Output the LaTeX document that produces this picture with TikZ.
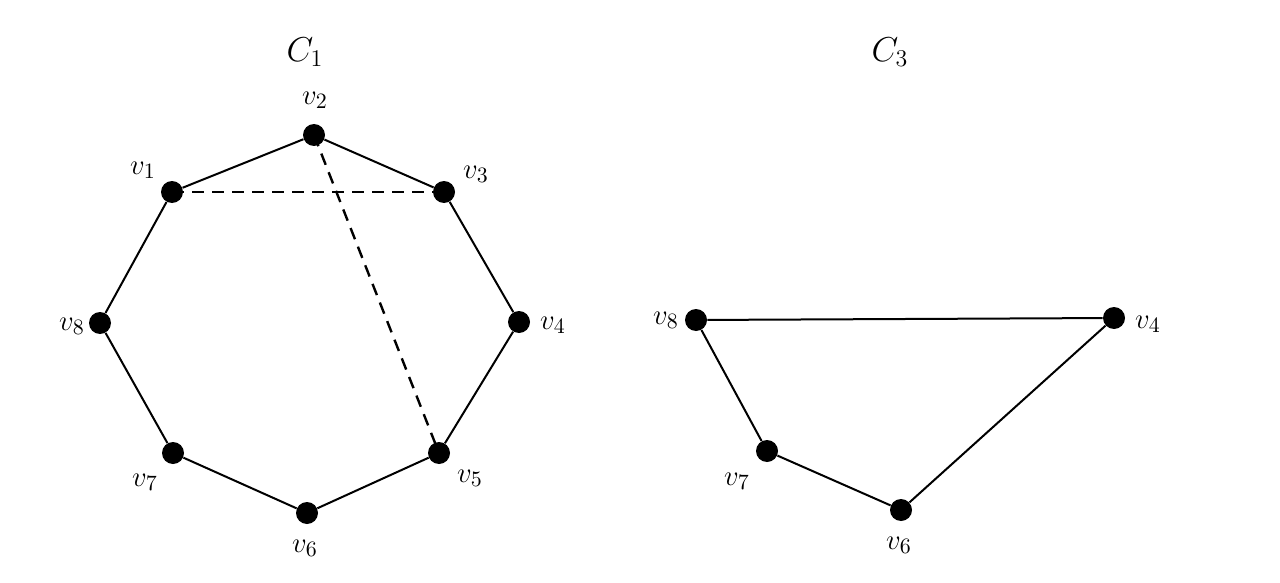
\documentclass[tikz,border=0pt]{standalone}
\begin{document}
\begin{tikzpicture}[x=0.5pt,y=-0.5pt,
  vtx/.style={circle,fill=black,inner sep=0pt,minimum size=11pt},
  lbl/.style={font=\fontsize{15}{18}\selectfont,inner sep=0pt},
  ttl/.style={font=\fontsize{17}{20}\selectfont,inner sep=0pt},
  edge/.style={line width=1pt},
  dedge/.style={line width=1.2pt,dash pattern=on 6pt off 4pt}]
\useasboundingbox (0,0) rectangle (1280,583);
% C1
\node[ttl] (t1) at (305,52) {$C_1$};
\node[vtx] (a1) at (172,192) {};
\node[vtx] (a2) at (314,135) {};
\node[vtx] (a3) at (444,192) {};
\node[vtx] (a4) at (519,322) {};
\node[vtx] (a5) at (439,453) {};
\node[vtx] (a6) at (307,513) {};
\node[vtx] (a7) at (173,453) {};
\node[vtx] (a8) at (100,323) {};
\node[lbl] (la1) at (143,170) {$v_1$};
\node[lbl] (la2) at (315,100) {$v_2$};
\node[lbl] (la3) at (476,174) {$v_3$};
\node[lbl] (la4) at (553,325) {$v_4$};
\node[lbl] (la5) at (470,478) {$v_5$};
\node[lbl] (la6) at (305,548) {$v_6$};
\node[lbl] (la7) at (145,482) {$v_7$};
\node[lbl] (la8) at (72,326) {$v_8$};
\draw[edge] (a1) -- (a2) -- (a3) -- (a4) -- (a5) -- (a6) -- (a7) -- (a8) -- (a1);
\draw[dedge] (a1.center) -- (a3.center);
\draw[dedge] (a2.center) -- (a5.center);
% C3
\node[ttl] (t3) at (890,52) {$C_3$};
\node[vtx] (b8) at (696,320) {};
\node[vtx] (b4) at (1114,318) {};
\node[vtx] (b7) at (767,451) {};
\node[vtx] (b6) at (901,510) {};
\node[lbl] (lb8) at (666,320) {$v_8$};
\node[lbl] (lb4) at (1148,324) {$v_4$};
\node[lbl] (lb7) at (737,481) {$v_7$};
\node[lbl] (lb6) at (899,545) {$v_6$};
\draw[edge] (b8) -- (b4) -- (b6) -- (b7) -- (b8);
\end{tikzpicture}
\end{document}
